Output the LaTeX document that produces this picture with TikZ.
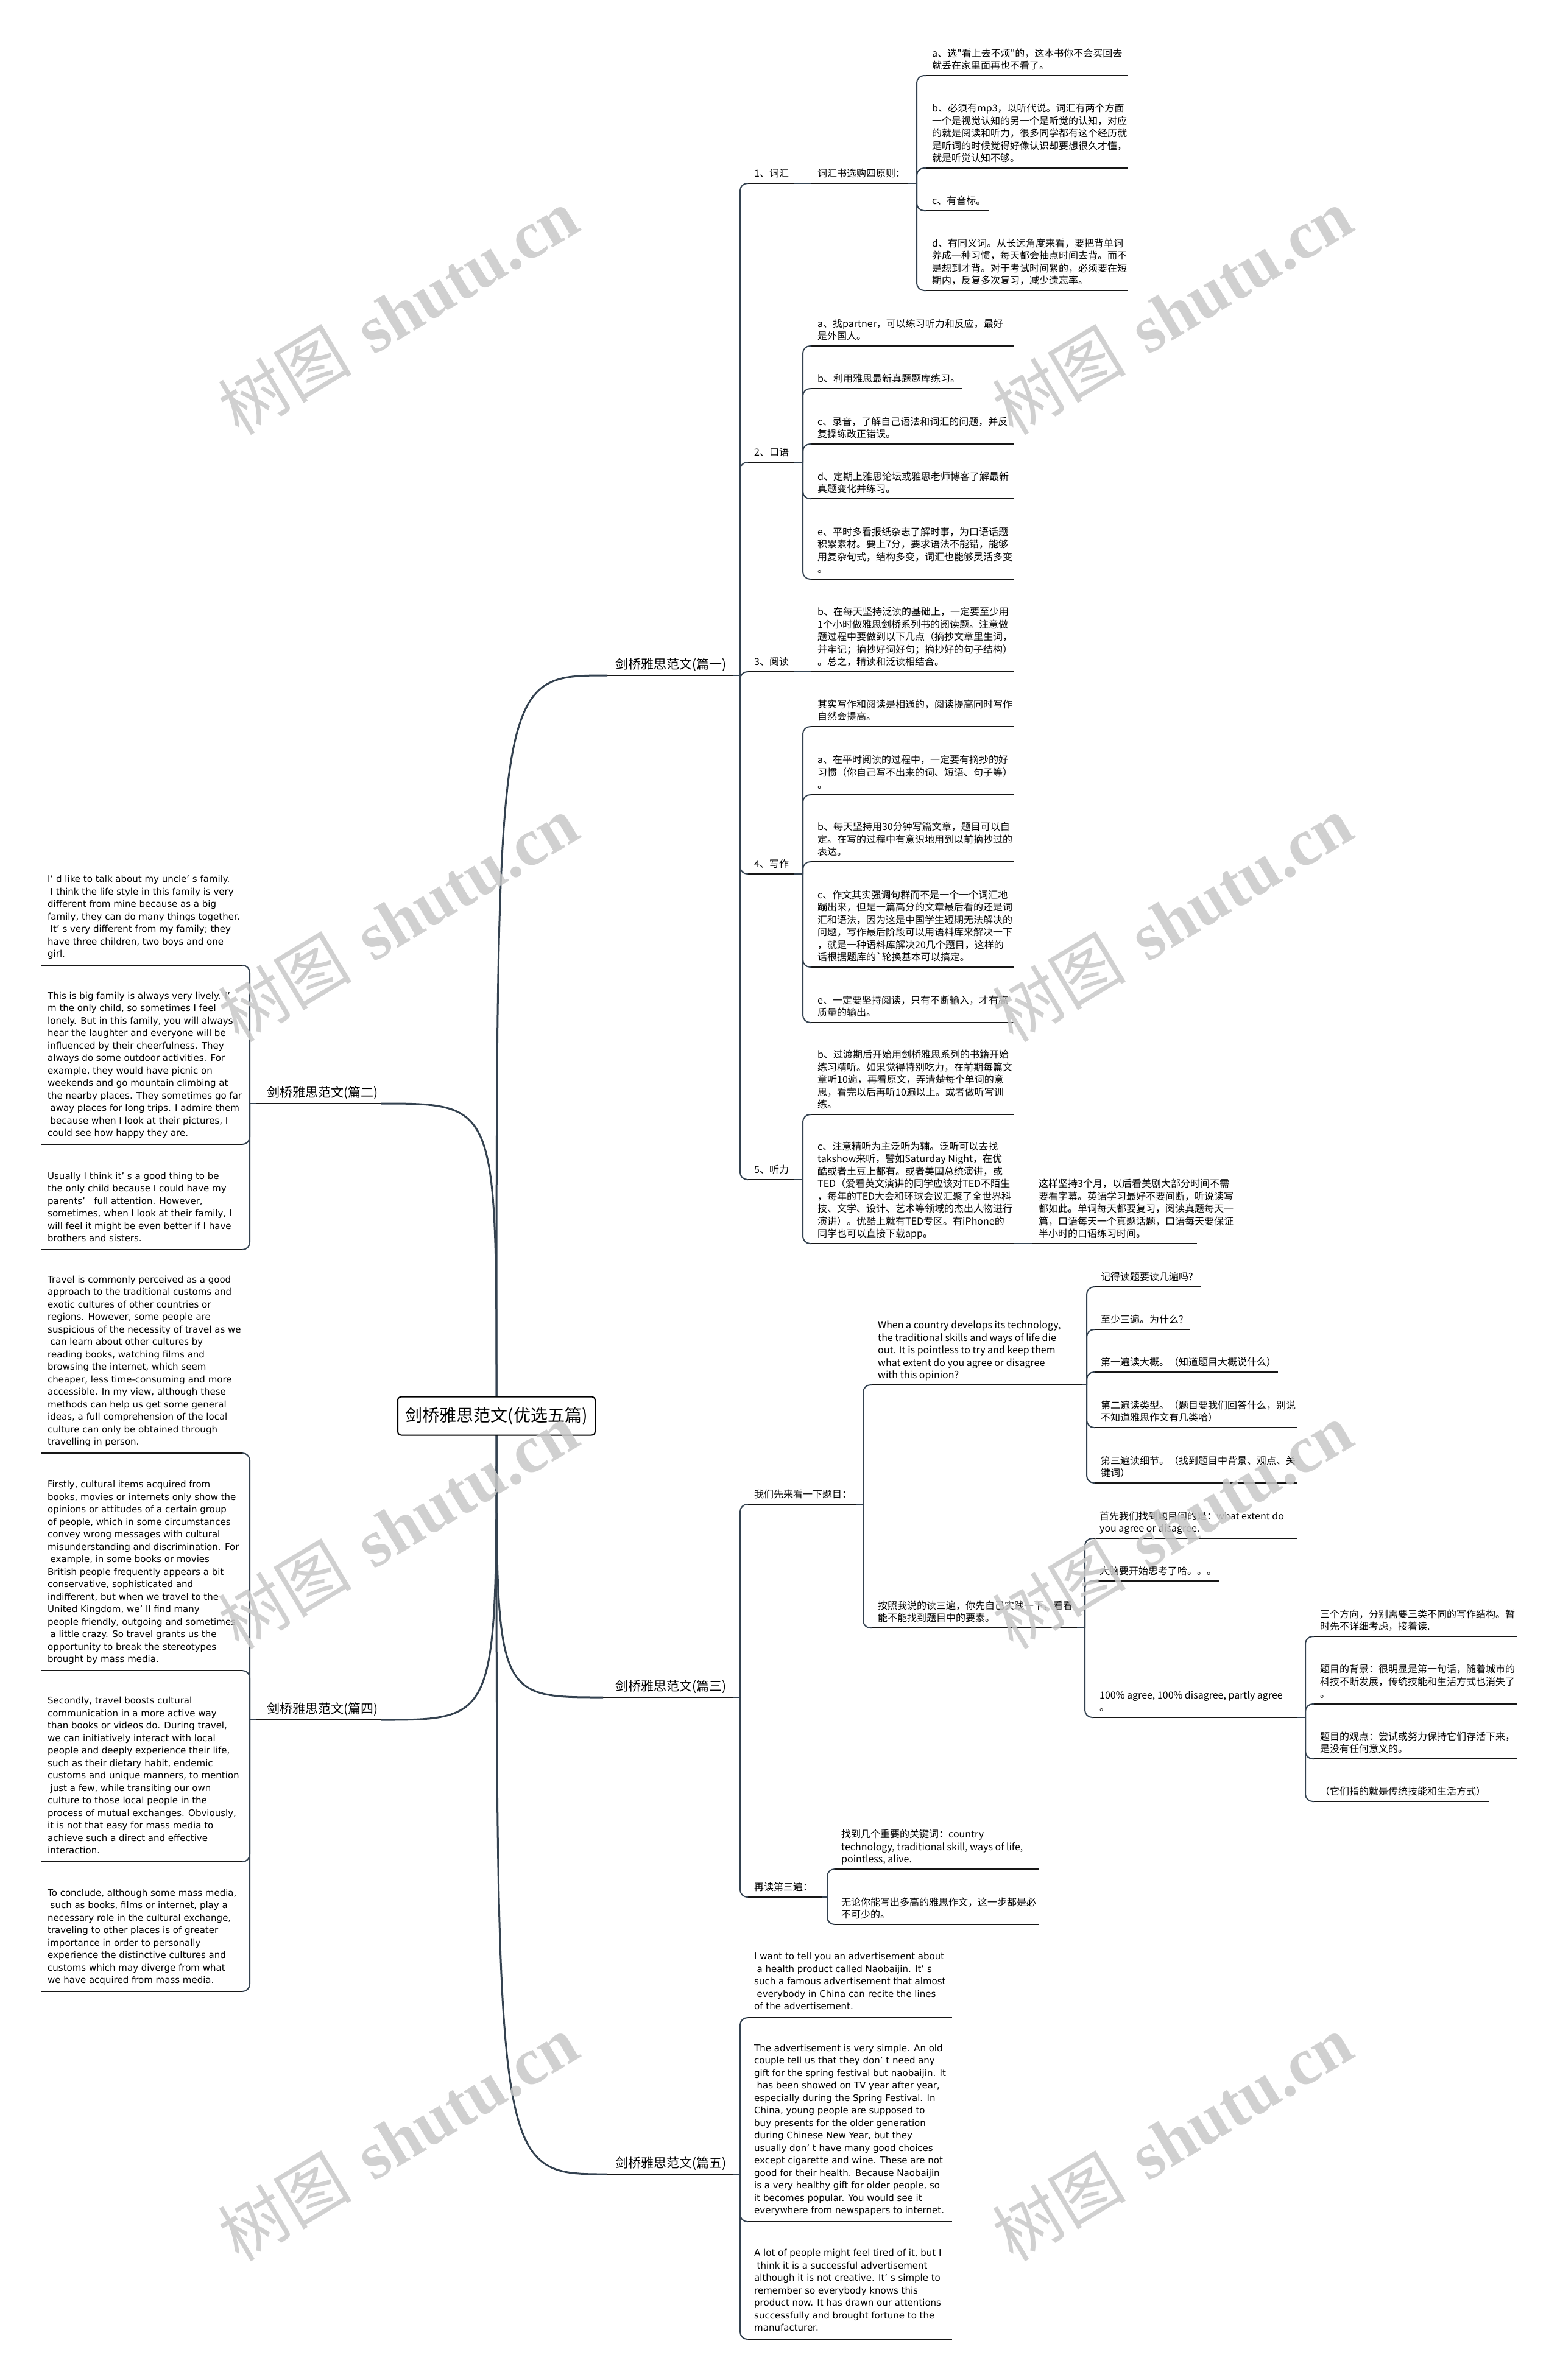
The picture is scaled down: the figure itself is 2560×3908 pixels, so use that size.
\documentclass[tikz,border=0pt]{standalone}
\usepackage{fontspec}
\newfontfamily\nf{Noto Sans CJK SC}
\newfontfamily\ef{DejaVu Sans}
\newfontfamily\wmf{Liberation Serif}
\definecolor{ulc}{RGB}{22,22,22}
\definecolor{cnc}{RGB}{52,66,80}
\definecolor{wmc}{RGB}{200,200,200}
\newcommand\sx{\rule[-4pt]{0pt}{4pt}}
\newcommand\ls{\hspace*{0.3em}}
\tikzset{
 ul/.style={draw=ulc,line width=2.4pt},
 conn/.style={draw=cnc,line width=2pt},
 mainc/.style={draw=cnc,line width=3pt},
 tx/.style={anchor=south west,inner sep=0pt,align=left,yshift=6pt,font=\nf\fontsize{16}{20.5}\selectfont},
 te/.style={anchor=south west,inner sep=0pt,align=left,yshift=9pt,font=\ef\fontsize{15}{20.5}\selectfont},
 lone/.style={anchor=south west,inner sep=0pt,yshift=6pt,font=\nf\fontsize{21}{24}\selectfont},
 wm/.style={rotate=31,text=wmc,text opacity=0.85,inner sep=0pt,font=\fontsize{110}{120}\selectfont},
}
\newcommand\topic[6][tx]{%
 \coordinate (#2s) at (#3,#5);
 \coordinate (#2e) at (#4,#5);
 \draw[ul] (#2s) -- (#2e);
 \node[#1] (#2) at (#3+10,#5) {#6\sx};}
\newcommand\cn[3]{\draw[conn] (#1) -- ++(#2,0); \draw[conn,rounded corners=12pt] (#1) ++(#2,0) |- (#3);}
\newcommand\sline[2]{\draw[conn] (#1) -- (#2);}
\begin{document}
\begin{tikzpicture}[x=1pt,y=-1pt]
\useasboundingbox (0,0) rectangle (2560,3908);
\fill[white] (0,0) rectangle (2560,3908);

% level 1
\coordinate (rtop) at (815,2293); \coordinate (rbot) at (815,2356);
\coordinate (p1s) at (997,1109); \coordinate (p1e) at (1203,1109);
\coordinate (p3s) at (990,2787); \coordinate (p3e) at (1203,2787);
\coordinate (p5s) at (997,3570); \coordinate (p5e) at (1203,3570);
\coordinate (p2a) at (625,1812); \coordinate (p2b) at (420,1812);
\coordinate (p4a) at (625,2824); \coordinate (p4b) at (420,2824);
\draw[mainc] (rtop) .. controls (815,1109) .. (p1s);
\draw[mainc] (rtop) .. controls (815,1812) .. (p2a);
\draw[mainc] (rbot) .. controls (815,2787) .. (p3s);
\draw[mainc] (rbot) .. controls (815,2824) .. (p4a);
\draw[mainc] (rbot) .. controls (815,3570) .. (p5s);
\draw[ul] (p1s) -- (p1e); \draw[ul] (p3s) -- (p3e); \draw[ul] (p5s) -- (p5e);
\draw[ul] (p2a) -- (p2b); \draw[ul] (p4a) -- (p4b);
\node[lone] (n1) at (1010,1109) {剑桥雅思范文(篇一)};
\node[lone] (n3) at (1010,2787) {剑桥雅思范文(篇三)};
\node[lone] (n5) at (1010,3570) {剑桥雅思范文(篇五)};
\node[lone] (n2) at (438,1812) {剑桥雅思范文(篇二)};
\node[lone] (n4) at (438,2824) {剑桥雅思范文(篇四)};

% ===== 篇一 =====
\topic{V0}{1228}{1303}{301}{1、词汇}
\topic{Vh}{1332}{1491}{301}{词汇书选购四原则：}
\topic{Va}{1520}{1852}{124}{a、选"看上去不烦"的，这本书你不会买回去\\就丢在家里面再也不看了。}
\topic{Vb}{1520}{1852}{276}{b、必须有mp3，以听代说。词汇有两个方面\\一个是视觉认知的另一个是听觉的认知，对应\\的就是阅读和听力，很多同学都有这个经历就\\是听词的时候觉得好像认识却要想很久才懂，\\就是听觉认知不够。}
\topic{Vc}{1520}{1624}{346}{c、有音标。}
\topic{Vd}{1520}{1852}{477}{d、有同义词。从长远角度来看，要把背单词\\养成一种习惯，每天都会抽点时间去背。而不\\是想到才背。对于考试时间紧的，必须要在短\\期内，反复多次复习，减少遗忘率。}
\topic{K0}{1228}{1303}{759}{2、口语}
\topic{Ka}{1332}{1665}{568}{a、找partner，可以练习听力和反应，最好\\是外国人。}
\topic{Kb}{1332}{1580}{638}{b、利用雅思最新真题题库练习。}
\topic{Kc}{1332}{1665}{729}{c、录音，了解自己语法和词汇的问题，并反\\复操练改正错误。}
\topic{Kd}{1332}{1665}{819}{d、定期上雅思论坛或雅思老师博客了解最新\\真题变化并练习。}
\topic{Ke}{1332}{1665}{951}{e、平时多看报纸杂志了解时事，为口语话题\\积累素材。要上7分，要求语法不能错，能够\\用复杂句式，结构多变，词汇也能够灵活多变\\。}
\topic{R0}{1228}{1303}{1103}{3、阅读}
\topic{Rb}{1332}{1665}{1103}{b、在每天坚持泛读的基础上，一定要至少用\\1个小时做雅思剑桥系列书的阅读题。注意做\\题过程中要做到以下几点（摘抄文章里生词，\\并牢记；摘抄好词好句；摘抄好的句子结构）\\。总之，精读和泛读相结合。}
\topic{W0}{1228}{1303}{1435}{4、写作}
\topic{Wx}{1332}{1665}{1193}{其实写作和阅读是相通的，阅读提高同时写作\\自然会提高。}
\topic{Wa}{1332}{1665}{1305}{a、在平时阅读的过程中，一定要有摘抄的好\\习惯（你自己写不出来的词、短语、句子等）\\。}
\topic{Wb}{1332}{1665}{1415}{b、每天坚持用30分钟写篇文章，题目可以自\\定。在写的过程中有意识地用到以前摘抄过的\\表达。}
\topic{Wc}{1332}{1665}{1588}{c、作文其实强调句群而不是一个一个词汇地\\蹦出来，但是一篇高分的文章最后看的还是词\\汇和语法，因为这是中国学生短期无法解决的\\问题，写作最后阶段可以用语料库来解决一下\\，就是一种语料库解决20几个题目，这样的\\话根据题库的`轮换基本可以搞定。}
\topic{We}{1332}{1665}{1679}{e、一定要坚持阅读，只有不断输入，才有高\\质量的输出。}
\topic{L0}{1228}{1303}{1937}{5、听力}
\topic{Lb}{1332}{1665}{1830}{b、过渡期后开始用剑桥雅思系列的书籍开始\\练习精听。如果觉得特别吃力，在前期每篇文\\章听10遍，再看原文，弄清楚每个单词的意\\思，看完以后再听10遍以上。或者做听写训\\练。}
\topic{Lc}{1332}{1665}{2042}{c、注意精听为主泛听为辅。泛听可以去找\\takshow来听，譬如Saturday Night，在优\\酷或者土豆上都有。或者美国总统演讲，或\\TED（爱看英文演讲的同学应该对TED不陌生\\，每年的TED大会和环球会议汇聚了全世界科\\技、文学、设计、艺术等领域的杰出人物进行\\演讲）。优酷上就有TED专区。有iPhone的\\同学也可以直接下载app。}
\topic{Lx}{1695}{1965}{2042}{这样坚持3个月，以后看美剧大部分时间不需\\要看字幕。英语学习最好不要间断，听说读写\\都如此。单词每天都要复习，阅读真题每天一\\篇，口语每天一个真题话题，口语每天要保证\\半小时的口语练习时间。}

\cn{p1e}{12}{V0s} \cn{p1e}{12}{K0s} \cn{p1e}{12}{R0s} \cn{p1e}{12}{W0s} \cn{p1e}{12}{L0s}
\sline{V0e}{Vhs}
\cn{Vhe}{14}{Vas} \cn{Vhe}{14}{Vbs} \cn{Vhe}{14}{Vcs} \cn{Vhe}{14}{Vds}
\cn{K0e}{15}{Kas} \cn{K0e}{15}{Kbs} \cn{K0e}{15}{Kcs} \cn{K0e}{15}{Kds} \cn{K0e}{15}{Kes}
\sline{R0e}{Rbs}
\cn{W0e}{15}{Wxs} \cn{W0e}{15}{Was} \cn{W0e}{15}{Wbs} \cn{W0e}{15}{Wcs} \cn{W0e}{15}{Wes}
\cn{L0e}{15}{Lbs} \cn{L0e}{15}{Lcs}
\sline{Lce}{Lxs}

% ===== 篇三 =====
\topic{Q0}{1228}{1405}{2470}{我们先来看一下题目：}
\topic{Qw}{1431}{1776}{2274}{When a country develops its technology,\\the traditional skills and ways of life die\\out. It is pointless to try and keep them\\what extent do you agree or disagree\\with this opinion?}
\topic{Q1}{1797}{1971}{2113}{记得读题要读几遍吗?}
\topic{Q2}{1797}{1954}{2183}{至少三遍。为什么?}
\topic{Q3}{1797}{2098}{2253}{第一遍读大概。（知道题目大概说什么）}
\topic{Q4}{1797}{2130}{2344}{第二遍读类型。（题目要我们回答什么，别说\\不知道雅思作文有几类哈）}
\topic{Q5}{1797}{2130}{2435}{第三遍读细节。（找到题目中背景、观点、关\\键词）}
\topic{Qa}{1431}{1768}{2673}{按照我说的读三遍，你先自己实践一下，看看\\能不能找到题目中的要素。}
\topic{A1}{1795}{2129}{2526}{首先我们找到题目问的是：what extent do\\you agree or disagree.}
\topic{A2}{1795}{2002}{2596}{大脑要开始思考了哈。。。}
\topic{A3}{1795}{2129}{2820}{100\% agree, 100\% disagree, partly agree\\。}
\topic{T1}{2157}{2490}{2687}{三个方向，分别需要三类不同的写作结构。暂\\时先不详细考虑，接着读.}
\topic{T2}{2157}{2490}{2798}{题目的背景：很明显是第一句话，随着城市的\\科技不断发展，传统技能和生活方式也消失了\\。}
\topic{T3}{2157}{2490}{2888}{题目的观点：尝试或努力保持它们存活下来，\\是没有任何意义的。}
\topic{T4}{2157}{2444}{2958}{（它们指的就是传统技能和生活方式）}
\topic{Z0}{1228}{1350}{3115}{再读第三遍：}
\topic{Z1}{1371}{1705}{3069}{找到几个重要的关键词：country\\technology, traditional skill, ways of life,\\pointless, alive.}
\topic{Z2}{1371}{1705}{3160}{无论你能写出多高的雅思作文，这一步都是必\\不可少的。}

\cn{p3e}{12}{Q0s} \cn{p3e}{12}{Z0s}
\cn{Q0e}{12}{Qws} \cn{Q0e}{12}{Qas}
\cn{Qwe}{8}{Q1s} \cn{Qwe}{8}{Q2s} \cn{Qwe}{8}{Q3s} \cn{Qwe}{8}{Q4s} \cn{Qwe}{8}{Q5s}
\cn{Qae}{13}{A1s} \cn{Qae}{13}{A2s} \cn{Qae}{13}{A3s}
\cn{A3e}{14}{T1s} \cn{A3e}{14}{T2s} \cn{A3e}{14}{T3s} \cn{A3e}{14}{T4s}
\cn{Z0e}{8}{Z1s} \cn{Z0e}{8}{Z2s}

% ===== 篇五 =====
\topic[te]{F1}{1228}{1563}{3313}{I want to tell you an advertisement about\\\ls a health product called Naobaijin. It’ s\\such a famous advertisement that almost\\\ls everybody in China can recite the lines\\of the advertisement.}
\topic[te]{F2}{1228}{1563}{3648}{The advertisement is very simple. An old\\couple tell us that they don’ t need any\\gift for the spring festival but naobaijin. It\\\ls has been showed on TV year after year,\\especially during the Spring Festival. In\\China, young people are supposed to\\buy presents for the older generation\\during Chinese New Year, but they\\usually don’ t have many good choices\\except cigarette and wine. These are not\\good for their health. Because Naobaijin\\is a very healthy gift for older people, so\\it becomes popular. You would see it\\everywhere from newspapers to internet.}
\topic[te]{F3}{1228}{1563}{3841}{A lot of people might feel tired of it, but I\\\ls think it is a successful advertisement\\although it is not creative. It’ s simple to\\remember so everybody knows this\\product now. It has drawn our attentions\\successfully and brought fortune to the\\manufacturer.}
\cn{p5e}{12}{F1s} \cn{p5e}{12}{F2s} \cn{p5e}{12}{F3s}

% ===== 篇二 =====
\topic[te]{B1}{68}{397}{1585}{I’ d like to talk about my uncle’ s family.\\\ls I think the life style in this family is very\\different from mine because as a big\\family, they can do many things together.\\\ls It’ s very different from my family; they\\have three children, two boys and one\\girl.}
\topic[te]{B2}{68}{397}{1879}{This is big family is always very lively. I’\\m the only child, so sometimes I feel\\lonely. But in this family, you will always\\hear the laughter and everyone will be\\influenced by their cheerfulness. They\\always do some outdoor activities. For\\example, they would have picnic on\\weekends and go mountain climbing at\\the nearby places. They sometimes go far\\\ls away places for long trips. I admire them\\\ls because when I look at their pictures, I\\could see how happy they are.}
\topic[te]{B3}{68}{397}{2052}{Usually I think it’ s a good thing to be\\the only child because I could have my\\parents’ \ \ full attention. However,\\sometimes, when I look at their family, I\\will feel it might be even better if I have\\brothers and sisters.}
\cn{p2b}{-10}{B1e} \cn{p2b}{-10}{B2e} \cn{p2b}{-10}{B3e}

% ===== 篇四 =====
\topic[te]{D1}{68}{397}{2386}{Travel is commonly perceived as a good\\approach to the traditional customs and\\exotic cultures of other countries or\\regions. However, some people are\\suspicious of the necessity of travel as we\\\ls can learn about other cultures by\\reading books, watching films and\\browsing the internet, which seem\\cheaper, less time-consuming and more\\accessible. In my view, although these\\methods can help us get some general\\ideas, a full comprehension of the local\\culture can only be obtained through\\travelling in person.}
\topic[te]{D2}{68}{397}{2743}{Firstly, cultural items acquired from\\books, movies or internets only show the\\opinions or attitudes of a certain group\\of people, which in some circumstances\\convey wrong messages with cultural\\misunderstanding and discrimination. For\\\ls example, in some books or movies\\British people frequently appears a bit\\conservative, sophisticated and\\indifferent, but when we travel to the\\United Kingdom, we’ ll find many\\people friendly, outgoing and sometimes\\\ls a little crazy. So travel grants us the\\opportunity to break the stereotypes\\brought by mass media.}
\topic[te]{D3}{68}{397}{3057}{Secondly, travel boosts cultural\\communication in a more active way\\than books or videos do. During travel,\\we can initiatively interact with local\\people and deeply experience their life,\\such as their dietary habit, endemic\\customs and unique manners, to mention\\\ls just a few, while transiting our own\\culture to those local people in the\\process of mutual exchanges. Obviously,\\it is not that easy for mass media to\\achieve such a direct and effective\\interaction.}
\topic[te]{D4}{68}{397}{3270}{To conclude, although some mass media,\\\ls such as books, films or internet, play a\\necessary role in the cultural exchange,\\traveling to other places is of greater\\importance in order to personally\\experience the distinctive cultures and\\customs which may diverge from what\\we have acquired from mass media.}
\cn{p4b}{-10}{D1e} \cn{p4b}{-10}{D2e} \cn{p4b}{-10}{D3e} \cn{p4b}{-10}{D4e}

% root
\node[draw=black,line width=2pt,fill=white,rounded corners=6pt,minimum width=324pt,minimum height=63pt,inner sep=0pt,font=\nf\fontsize{28}{32}\selectfont] (root) at (815,2325) {剑桥雅思范文(优选五篇)};

% watermarks
\foreach \wx/\wy [count=\i] in {653/511,1924/511,653/1508,1924/1508,653/2505,1924/2505,653/3510,1924/3510}
  \node[wm] (wm\i) at (\wx,\wy) {{\nf 树图}\hspace{0.35em}{\wmf\bfseries shutu.cn}};
\end{tikzpicture}
\end{document}
